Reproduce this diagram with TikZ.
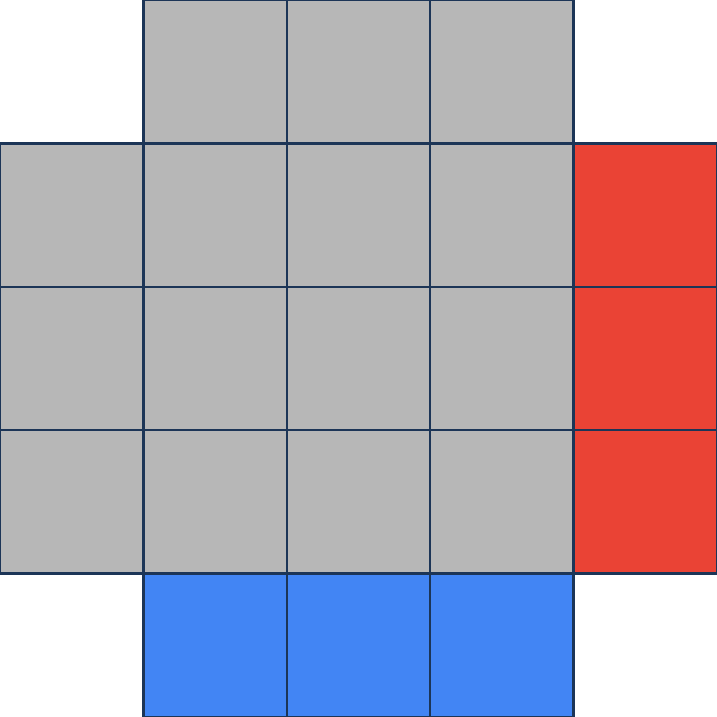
\documentclass[tikz,border=0pt]{standalone}
\usepackage{tikz}
\definecolor{cellgray}{HTML}{B7B7B7}
\definecolor{cellred}{HTML}{EA4335}
\definecolor{cellblue}{HTML}{4285F4}
\definecolor{cellink}{HTML}{1C3557}

\begin{document}
\begin{tikzpicture}[
  cell/.style={draw=cellink, line width=0.5pt,
               minimum size=1cm, inner sep=0pt, outer sep=0pt},
]
\useasboundingbox (0,0) rectangle (5,5);
% --- top row ---
\foreach \c in {1,2,3}
  \node[cell, fill=cellgray] (top-\c) at (\c+0.5,4.5) {};
% --- middle block ---
\foreach \r in {1,2,3}{
  \foreach \c in {0,1,2,3}
    \node[cell, fill=cellgray] (mid-\r-\c) at (\c+0.5,4.5-\r) {};
  \node[cell, fill=cellred] (red-\r) at (4.5,4.5-\r) {};
}
% --- bottom row ---
\foreach \c in {1,2,3}
  \node[cell, fill=cellblue] (bot-\c) at (\c+0.5,0.5) {};
\end{tikzpicture}
\end{document}
